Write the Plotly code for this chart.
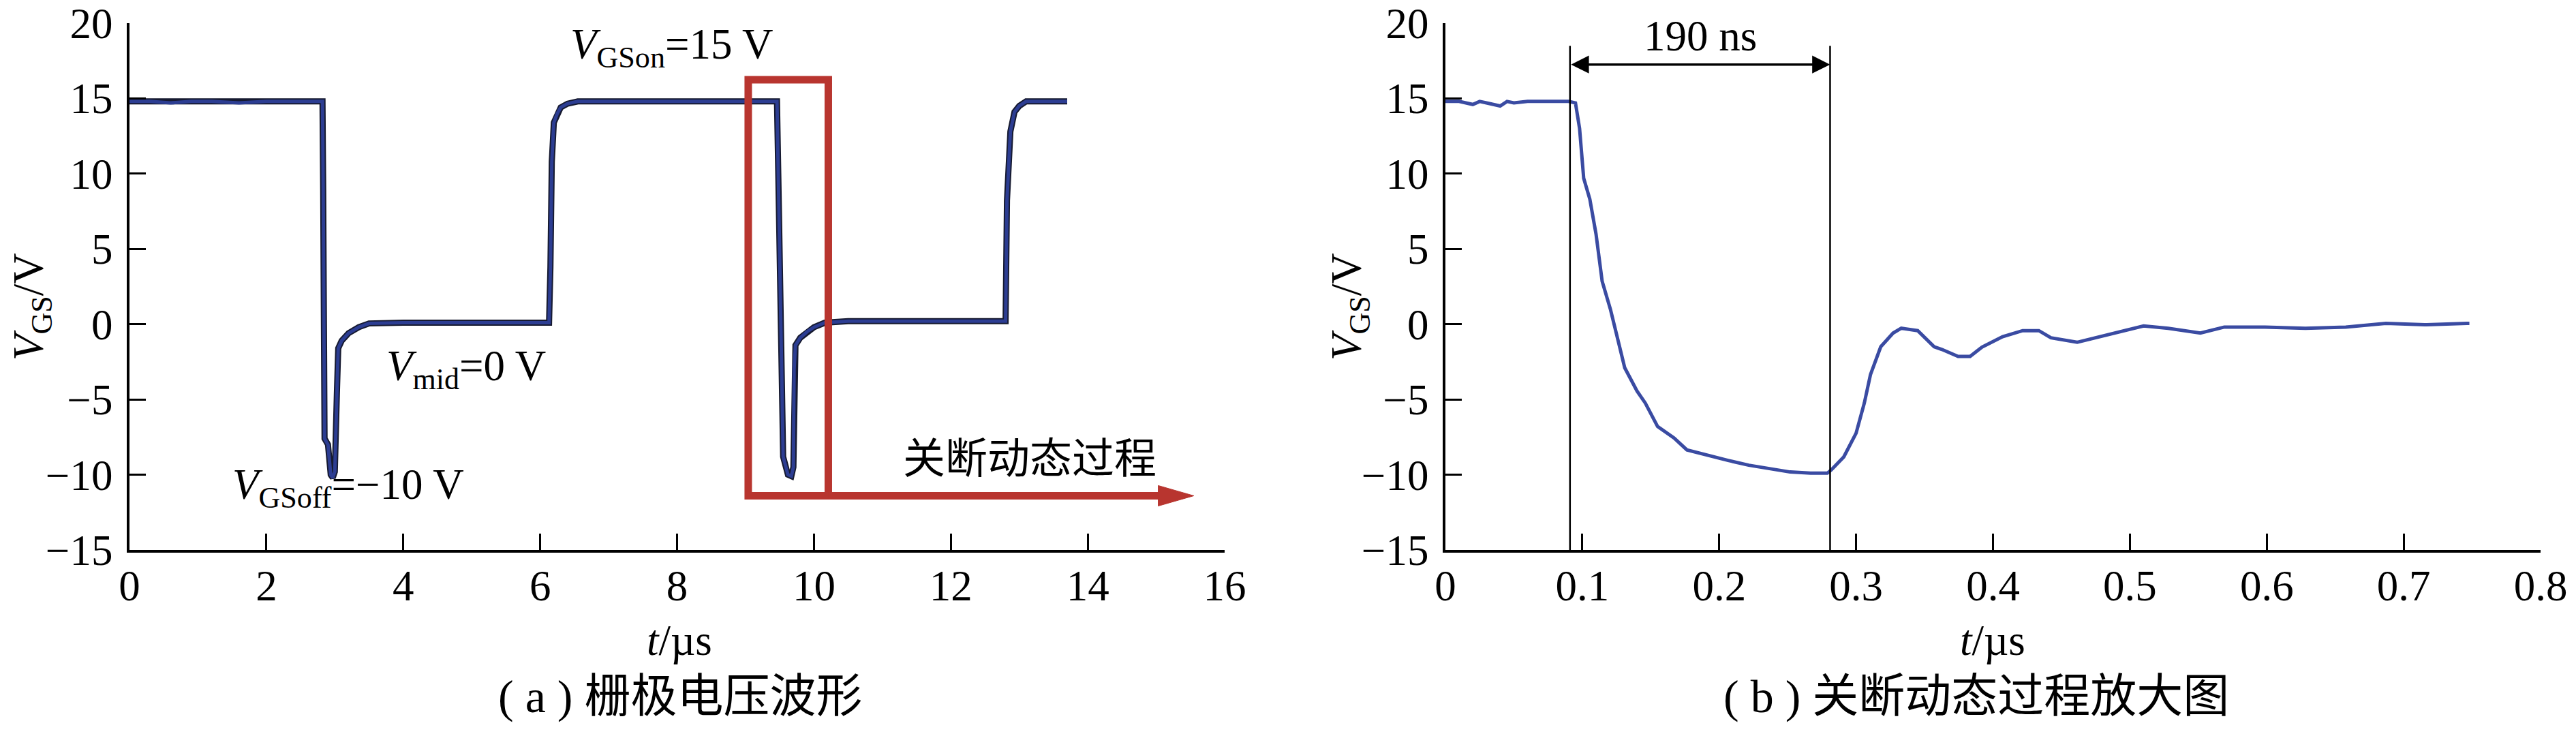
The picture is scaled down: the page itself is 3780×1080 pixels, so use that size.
import plotly.graph_objects as go

# ---------------- data ----------------
# (a) gate voltage waveform, t in µs, V_GS in V
t_a = [0, 0.3, 0.6, 0.9, 1.2, 1.6, 2.0, 2.4, 2.82, 2.83, 2.85, 2.90, 2.94, 2.97,
       3.00, 3.03, 3.04, 3.05, 3.10, 3.20, 3.35, 3.50, 4.0, 4.5, 5.0, 5.5, 6.0,
       6.13, 6.15, 6.17, 6.20, 6.25, 6.30, 6.40, 6.55, 7.0, 7.5, 8.0, 8.5, 9.0,
       9.46, 9.48, 9.52, 9.55, 9.62, 9.67, 9.70, 9.71, 9.73, 9.80, 9.90, 10.0,
       10.16, 10.5, 11.0, 11.5, 12.0, 12.5, 12.80, 12.82, 12.87, 12.93, 13.0,
       13.1, 13.4, 13.7]
v_a = [14.8, 14.8, 14.7, 14.8, 14.8, 14.7, 14.8, 14.8, 14.8, 9.0, -7.6, -8.0,
       -10.0, -10.2, -9.8, -4.6, -2.5, -1.6, -1.1, -0.6, -0.2, 0.05, 0.1, 0.1,
       0.1, 0.1, 0.1, 0.1, 3.8, 10.8, 13.4, 14.0, 14.4, 14.65, 14.8, 14.8, 14.8,
       14.8, 14.8, 14.8, 14.8, 9.7, 0.3, -8.8, -10.0, -10.1, -9.5, -3.0, -1.4,
       -0.9, -0.5, -0.2, 0.1, 0.2, 0.2, 0.2, 0.2, 0.2, 0.2, 8.2, 12.8, 14.1,
       14.5, 14.8, 14.8, 14.8]

# (b) zoomed turn-off transient, t in µs, V_GS in V
t_b = [0, 0.01, 0.02, 0.025, 0.03, 0.04, 0.045, 0.05, 0.06, 0.07, 0.08, 0.09,
       0.095, 0.098, 0.101, 0.1055, 0.110, 0.1145, 0.1206, 0.128, 0.131, 0.140,
       0.146, 0.155, 0.167, 0.1764, 0.1915, 0.2065, 0.2216, 0.2368, 0.2518,
       0.2667, 0.279, 0.2819, 0.291, 0.300, 0.306, 0.3105, 0.318, 0.327, 0.333,
       0.345, 0.357, 0.3627, 0.3745, 0.3833, 0.392, 0.407, 0.4217, 0.4335,
       0.4423, 0.4615, 0.4747, 0.4896, 0.510, 0.528, 0.5515, 0.569, 0.5987,
       0.6282, 0.6577, 0.687, 0.7168, 0.7463, 0.748]
v_b = [14.8, 14.8, 14.6, 14.8, 14.7, 14.5, 14.8, 14.7, 14.8, 14.8, 14.8, 14.8,
       14.7, 13.0, 9.7, 8.3, 6.0, 2.85, 0.97, -1.83, -2.9, -4.45, -5.24, -6.8,
       -7.56, -8.35, -8.73, -9.05, -9.37, -9.6, -9.82, -9.9, -9.9, -9.68, -8.82,
       -7.24, -5.24, -3.35, -1.5, -0.59, -0.27, -0.43, -1.5, -1.68, -2.14, -2.14,
       -1.52, -0.83, -0.43, -0.43, -0.9, -1.2, -0.9, -0.59, -0.12, -0.27, -0.59,
       -0.19, -0.19, -0.27, -0.19, 0.05, -0.04, 0.05, 0.05]

xticks_a = [0, 2, 4, 6, 8, 10, 12, 14, 16]
xticks_b = [0, 0.1, 0.2, 0.3, 0.4, 0.5, 0.6, 0.7, 0.8]
yticks = [-15, -10, -5, 0, 5, 10, 15, 20]
xticklabels_b = ["0", "0.1", "0.2", "0.3", "0.4", "0.5", "0.6", "0.7", "0.8"]

# highlighted turn-off window in (a) and measured delay in (b)
box_t = [9.04, 10.21]
box_v = [-11.4, 16.24]
arrow_end_t = 15.55
t_markers = [0.091, 0.281]

# ---------------- figure ----------------
W, H = 3780, 1080
OFF = 8  # page body margin in the browser
SERIF = "Liberation Serif, Times New Roman, serif"
CJK = "Liberation Serif, Noto Sans CJK SC, serif"
RED = "#B8352F"
FS = 63

def px_x(p):
    return (p - OFF) / W

def px_y(p):
    return 1 - (p - OFF) / H

fig = go.Figure()

# (a) traces: dark outline + blue core
fig.add_trace(go.Scatter(x=t_a, y=v_a, mode="lines", xaxis="x", yaxis="y",
                         line=dict(color="#161a30", width=9), hoverinfo="skip"))
fig.add_trace(go.Scatter(x=t_a, y=v_a, mode="lines", xaxis="x", yaxis="y",
                         line=dict(color="#2c3d92", width=5)))
# (b) trace
fig.add_trace(go.Scatter(x=t_b, y=v_b, mode="lines", xaxis="x2", yaxis="y2",
                         line=dict(color="#3a4ba2", width=5)))

axis_common = dict(showline=True, linecolor="black", linewidth=4, ticks="inside",
                   ticklen=24, tickwidth=3, tickcolor="black", showgrid=False,
                   zeroline=False, tickfont=dict(family=SERIF, size=FS, color="black"),
                   mirror=False, automargin=False, ticklabeloverflow="allow")

fig.update_layout(
    width=W, height=H,
    margin=dict(l=0, r=0, t=0, b=0, autoexpand=False),
    paper_bgcolor="white", plot_bgcolor="white",
    showlegend=False,
    xaxis=dict(domain=[px_x(190), px_x(1797)], range=[0, 16], tickvals=xticks_a,
               anchor="y", ticklabelstandoff=-6, **axis_common),
    yaxis=dict(domain=[px_y(807), px_y(34)], range=[-15, 20], tickvals=yticks,
               anchor="x", ticklabelstandoff=8, **axis_common),
    xaxis2=dict(domain=[px_x(2121), px_x(3728)], range=[0, 0.8], tickvals=xticks_b,
                ticktext=xticklabels_b, anchor="y2", ticklabelstandoff=-6, **axis_common),
    yaxis2=dict(domain=[px_y(807), px_y(34)], range=[-15, 20], tickvals=yticks,
                anchor="x2", ticklabelstandoff=8, **axis_common),
)

# red rectangle and arrow in (a)
fig.add_shape(type="rect", xref="x", yref="y", x0=box_t[0], x1=box_t[1],
              y0=box_v[0], y1=box_v[1], line=dict(color=RED, width=11))
fig.add_shape(type="line", xref="x", yref="y", x0=box_t[1], x1=arrow_end_t - 0.3,
              y0=box_v[0], y1=box_v[0], line=dict(color=RED, width=11))
head_len = 0.52
head_half = 0.68
fig.add_shape(type="path", xref="x", yref="y",
              path=f"M {arrow_end_t - head_len} {box_v[0] - head_half} "
                   f"L {arrow_end_t} {box_v[0]} "
                   f"L {arrow_end_t - head_len} {box_v[0] + head_half} Z",
              fillcolor=RED, line=dict(color=RED, width=1))

# vertical marker lines in (b)
for tm in t_markers:
    fig.add_shape(type="line", xref="x2", yref="y2", x0=tm, x1=tm, y0=-15, y1=18.5,
                  line=dict(color="black", width=2.5))
# double-headed arrow
fig.add_annotation(xref="x2", yref="y2", axref="x2", ayref="y2",
                   x=t_markers[1], y=17.25, ax=t_markers[0], ay=17.25,
                   text="", showarrow=True, arrowhead=2, startarrowhead=2,
                   arrowside="end+start", arrowwidth=3.5, arrowsize=1.5,
                   startarrowsize=1.5, arrowcolor="black")
fig.add_annotation(xref="x2", yref="y2", x=0.186, y=19.15, text="190 ns",
                   showarrow=False, font=dict(family=SERIF, size=FS, color="black"))

# text annotations in (a)
fig.add_annotation(xref="x", yref="y", x=6.42, y=18.4, xanchor="left", yanchor="middle",
                   text="<i>V</i><sub>GSon</sub>=15 V", showarrow=False,
                   font=dict(family=SERIF, size=FS, color="black"))
fig.add_annotation(xref="x", yref="y", x=3.73, y=-3.0, xanchor="left", yanchor="middle",
                   text="<i>V</i><sub>mid</sub>=0 V", showarrow=False,
                   font=dict(family=SERIF, size=FS, color="black"))
fig.add_annotation(xref="x", yref="y", x=1.48, y=-10.85, xanchor="left", yanchor="middle",
                   text="<i>V</i><sub>GSoff</sub>=−10 V", showarrow=False,
                   font=dict(family=SERIF, size=FS, color="black"))
fig.add_annotation(xref="x", yref="y", x=13.15, y=-9.0, xanchor="center", yanchor="middle",
                   text="关断动态过程", showarrow=False,
                   font=dict(family=CJK, size=62, color="black"))

# axis titles
for xc in (47, 1981):
    fig.add_annotation(xref="paper", yref="paper", x=px_x(xc), y=px_y(450),
                       text="<i>V</i><sub>GS</sub>/V", textangle=-90, showarrow=False,
                       xanchor="center", yanchor="middle",
                       font=dict(family=SERIF, size=FS, color="black"))
for xc in (997, 2924):
    fig.add_annotation(xref="paper", yref="paper", x=px_x(xc), y=px_y(940),
                       text="<i>t</i>/µs", showarrow=False,
                       xanchor="center", yanchor="middle",
                       font=dict(family=SERIF, size=FS, color="black"))

# captions
fig.add_annotation(xref="paper", yref="paper", x=px_x(998), y=px_y(1022),
                   text="( a ) 栅极电压波形", showarrow=False, xanchor="center",
                   yanchor="middle", font=dict(family=CJK, size=68, color="black"))
fig.add_annotation(xref="paper", yref="paper", x=px_x(2900), y=px_y(1022),
                   text="( b ) 关断动态过程放大图", showarrow=False, xanchor="center",
                   yanchor="middle", font=dict(family=CJK, size=68, color="black"))

fig.write_html("out.html")
